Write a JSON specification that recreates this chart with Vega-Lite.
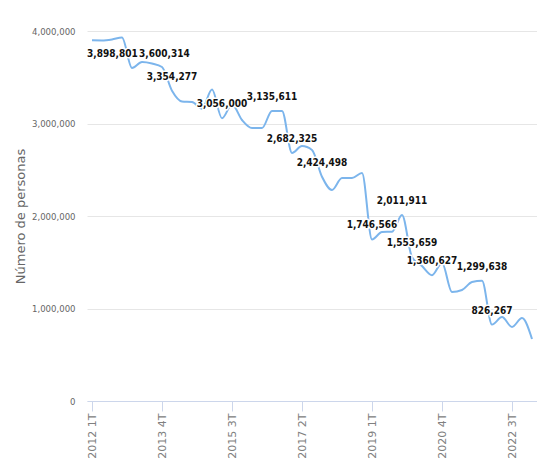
{
  "$schema": "https://vega.github.io/schema/vega-lite/v6.json",
  "width": 450,
  "height": 370,
  "autosize": {"type": "none"},
  "padding": {"left": 87, "top": 31, "right": 0, "bottom": 72},
  "background": "white",
  "config": {"view": {"stroke": null}},
  "data": {"values": [
    {"q": "2012 1T", "v": 3898801},
    {"q": "2012 2T", "v": 3897000},
    {"q": "2012 3T", "v": 3908000},
    {"q": "2012 4T", "v": 3930000},
    {"q": "2013 1T", "v": 3600314},
    {"q": "2013 2T", "v": 3665000},
    {"q": "2013 3T", "v": 3649000},
    {"q": "2013 4T", "v": 3611000},
    {"q": "2014 1T", "v": 3354277},
    {"q": "2014 2T", "v": 3238000},
    {"q": "2014 3T", "v": 3232000},
    {"q": "2014 4T", "v": 3160000},
    {"q": "2015 1T", "v": 3368000},
    {"q": "2015 2T", "v": 3056000},
    {"q": "2015 3T", "v": 3205000},
    {"q": "2015 4T", "v": 3038000},
    {"q": "2016 1T", "v": 2951000},
    {"q": "2016 2T", "v": 2951000},
    {"q": "2016 3T", "v": 3135611},
    {"q": "2016 4T", "v": 3135000},
    {"q": "2017 1T", "v": 2682325},
    {"q": "2017 2T", "v": 2757000},
    {"q": "2017 3T", "v": 2714000},
    {"q": "2017 4T", "v": 2424498},
    {"q": "2018 1T", "v": 2281000},
    {"q": "2018 2T", "v": 2411000},
    {"q": "2018 3T", "v": 2411000},
    {"q": "2018 4T", "v": 2465000},
    {"q": "2019 1T", "v": 1746566},
    {"q": "2019 2T", "v": 1827000},
    {"q": "2019 3T", "v": 1830000},
    {"q": "2019 4T", "v": 2011911},
    {"q": "2020 1T", "v": 1553659},
    {"q": "2020 2T", "v": 1459000},
    {"q": "2020 3T", "v": 1360627},
    {"q": "2020 4T", "v": 1492000},
    {"q": "2021 1T", "v": 1178000},
    {"q": "2021 2T", "v": 1200000},
    {"q": "2021 3T", "v": 1286000},
    {"q": "2021 4T", "v": 1299638},
    {"q": "2022 1T", "v": 826267},
    {"q": "2022 2T", "v": 908000},
    {"q": "2022 3T", "v": 800000},
    {"q": "2022 4T", "v": 897000},
    {"q": "2023 1T", "v": 670000}
  ]},
  "encoding": {
    "x": {
      "field": "q", "type": "ordinal", "sort": null,
      "scale": {"type": "point", "padding": 0.5},
      "axis": {
        "title": null,
        "values": ["2012 1T", "2013 4T", "2015 3T", "2017 2T", "2019 1T", "2020 4T", "2022 3T"],
        "labelAngle": 270,
        "labelFont": "DejaVu Sans",
        "labelFontSize": 11,
        "labelColor": "#808080",
        "labelPadding": 2,
        "tickSize": 10,
        "tickColor": "#ccd6eb",
        "domainColor": "#ccd6eb",
        "grid": false
      }
    },
    "y": {
      "field": "v", "type": "quantitative",
      "scale": {"domain": [0, 4000000], "nice": false},
      "axis": {
        "title": "Número de personas",
        "titleFont": "DejaVu Sans",
        "titleFontSize": 13,
        "titleFontWeight": "normal",
        "titleColor": "#666666",
        "titlePadding": 4,
        "values": [0, 1000000, 2000000, 3000000, 4000000],
        "format": ",.0f",
        "labelFont": "DejaVu Sans Condensed, DejaVu Sans",
        "labelFontSize": 9.5,
        "labelColor": "#666666",
        "labelPadding": 12,
        "ticks": false,
        "domain": false,
        "grid": true,
        "gridColor": "#e6e6e6"
      }
    }
  },
  "layer": [
    {"mark": {"type": "line", "interpolate": "monotone", "color": "#7cb5ec", "strokeWidth": 2}},
    {
      "transform": [{"filter": {"field": "q", "oneOf": ["2014 1T", "2015 2T", "2016 3T", "2017 1T", "2017 4T", "2019 1T", "2019 4T", "2020 1T", "2020 3T", "2021 4T", "2022 1T"]}}],
      "mark": {"type": "text", "font": "DejaVu Sans Condensed, DejaVu Sans", "fontSize": 10, "fontWeight": "bold", "baseline": "middle", "dy": -14, "fill": "white", "stroke": "white", "strokeWidth": 3, "strokeJoin": "round"},
      "encoding": {"text": {"field": "v", "type": "quantitative", "format": ",.0f"}}
    },
    {
      "transform": [{"filter": {"field": "q", "oneOf": ["2012 1T"]}}],
      "mark": {"type": "text", "font": "DejaVu Sans Condensed, DejaVu Sans", "fontSize": 10, "fontWeight": "bold", "baseline": "middle", "align": "left", "dx": -5, "dy": 14, "fill": "white", "stroke": "white", "strokeWidth": 3, "strokeJoin": "round"},
      "encoding": {"text": {"field": "v", "type": "quantitative", "format": ",.0f"}}
    },
    {
      "transform": [{"filter": {"field": "q", "oneOf": ["2013 1T"]}}],
      "mark": {"type": "text", "font": "DejaVu Sans Condensed, DejaVu Sans", "fontSize": 10, "fontWeight": "bold", "baseline": "middle", "align": "left", "dx": 7, "dy": -14, "fill": "white", "stroke": "white", "strokeWidth": 3, "strokeJoin": "round"},
      "encoding": {"text": {"field": "v", "type": "quantitative", "format": ",.0f"}}
    },
    {
      "transform": [{"filter": {"field": "q", "oneOf": ["2014 1T", "2015 2T", "2016 3T", "2017 1T", "2017 4T", "2019 1T", "2019 4T", "2020 1T", "2020 3T", "2021 4T", "2022 1T"]}}],
      "mark": {"type": "text", "font": "DejaVu Sans Condensed, DejaVu Sans", "fontSize": 10, "fontWeight": "bold", "baseline": "middle", "dy": -14, "color": "#111111"},
      "encoding": {"text": {"field": "v", "type": "quantitative", "format": ",.0f"}}
    },
    {
      "transform": [{"filter": {"field": "q", "oneOf": ["2012 1T"]}}],
      "mark": {"type": "text", "font": "DejaVu Sans Condensed, DejaVu Sans", "fontSize": 10, "fontWeight": "bold", "baseline": "middle", "align": "left", "dx": -5, "dy": 14, "color": "#111111"},
      "encoding": {"text": {"field": "v", "type": "quantitative", "format": ",.0f"}}
    },
    {
      "transform": [{"filter": {"field": "q", "oneOf": ["2013 1T"]}}],
      "mark": {"type": "text", "font": "DejaVu Sans Condensed, DejaVu Sans", "fontSize": 10, "fontWeight": "bold", "baseline": "middle", "align": "left", "dx": 7, "dy": -14, "color": "#111111"},
      "encoding": {"text": {"field": "v", "type": "quantitative", "format": ",.0f"}}
    }
  ]
}
